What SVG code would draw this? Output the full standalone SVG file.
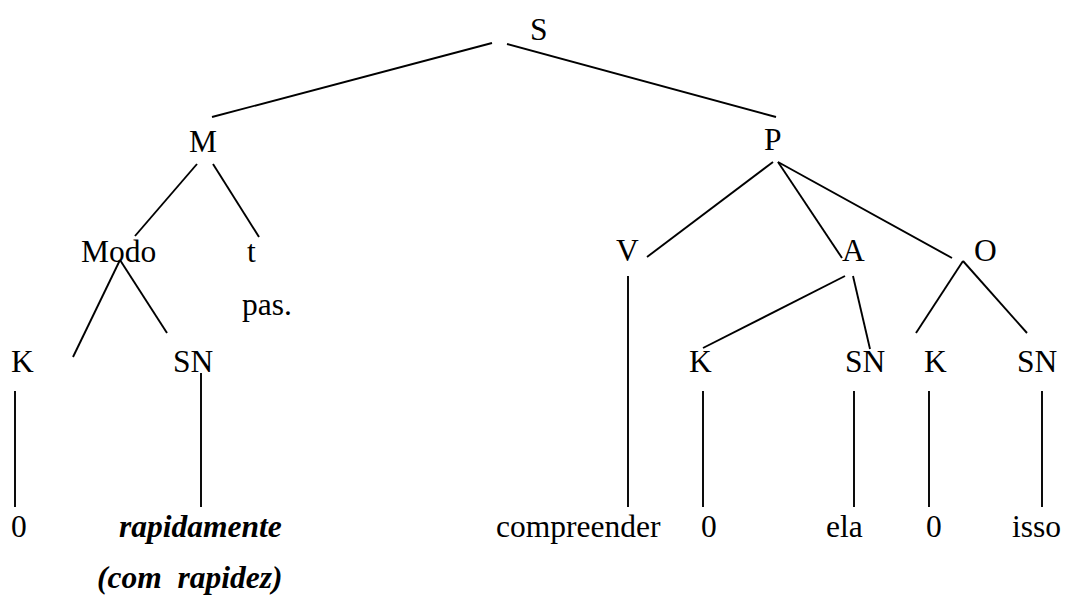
<svg xmlns="http://www.w3.org/2000/svg" width="1073" height="598" viewBox="0 0 1073 598">
  <style>
    text { font-family: "Liberation Serif", "Times New Roman", serif; font-size: 31.5px; fill: #000; }
    .ex { font-weight: bold; font-style: italic; white-space: pre; }
    #edges line { stroke: #000; stroke-width: 1.9; stroke-linecap: butt; }
  </style>
  <rect width="1073" height="598" fill="#fff"/>

  <!-- branches of the tree -->
  <g id="edges">
    <line x1="492" y1="43" x2="212" y2="117"/>
    <line x1="507" y1="44" x2="776" y2="117"/>
    <line x1="197" y1="164" x2="135" y2="236"/>
    <line x1="213" y1="164" x2="259" y2="237"/>
    <line x1="120" y1="260" x2="73" y2="357"/>
    <line x1="120" y1="260" x2="167" y2="333"/>
    <line x1="15" y1="391" x2="15" y2="507"/>
    <line x1="201" y1="373" x2="201" y2="507"/>
    <line x1="773" y1="162" x2="647" y2="257"/>
    <line x1="778" y1="162" x2="842" y2="258"/>
    <line x1="778" y1="162" x2="952" y2="258"/>
    <line x1="628" y1="276" x2="628" y2="507"/>
    <line x1="845" y1="276" x2="703" y2="348"/>
    <line x1="853" y1="276" x2="870" y2="349"/>
    <line x1="963" y1="261" x2="916" y2="333"/>
    <line x1="963" y1="261" x2="1027" y2="333"/>
    <line x1="703" y1="391" x2="703" y2="507"/>
    <line x1="854" y1="391" x2="854" y2="507"/>
    <line x1="929" y1="391" x2="929" y2="507"/>
    <line x1="1042" y1="391" x2="1042" y2="507"/>
  </g>

  <g id="node-S"><text x="530" y="40">S</text></g>
  <g id="node-M"><text x="189" y="152">M</text></g>
  <g id="node-P"><text x="764" y="150">P</text></g>
  <g id="node-Modo"><text x="81" y="262">Modo</text></g>
  <g id="node-t"><text x="247" y="262">t</text></g>
  <g id="node-pas"><text x="242" y="315">pas.</text></g>
  <g id="node-K1"><text x="11" y="372">K</text></g>
  <g id="node-SN1"><text x="173" y="372">SN</text></g>
  <g id="node-zero1"><text x="11" y="537">0</text></g>
  <g id="node-rapidamente"><text class="ex" x="119" y="537">rapidamente</text></g>
  <g id="node-comrapidez"><text class="ex" x="97" y="588">(com  rapidez)</text></g>

  <g id="node-V"><text x="616" y="261">V</text></g>
  <g id="node-A"><text x="842" y="261">A</text></g>
  <g id="node-O"><text x="974" y="261">O</text></g>
  <g id="node-K2"><text x="689" y="372">K</text></g>
  <g id="node-SN2"><text x="845" y="372">SN</text></g>
  <g id="node-K3"><text x="924" y="372">K</text></g>
  <g id="node-SN3"><text x="1017" y="372">SN</text></g>
  <g id="node-compreender"><text x="496" y="537">compreender</text></g>
  <g id="node-zero2"><text x="701" y="537">0</text></g>
  <g id="node-ela"><text x="826" y="537">ela</text></g>
  <g id="node-zero3"><text x="926" y="537">0</text></g>
  <g id="node-isso"><text x="1012" y="537">isso</text></g>
</svg>
